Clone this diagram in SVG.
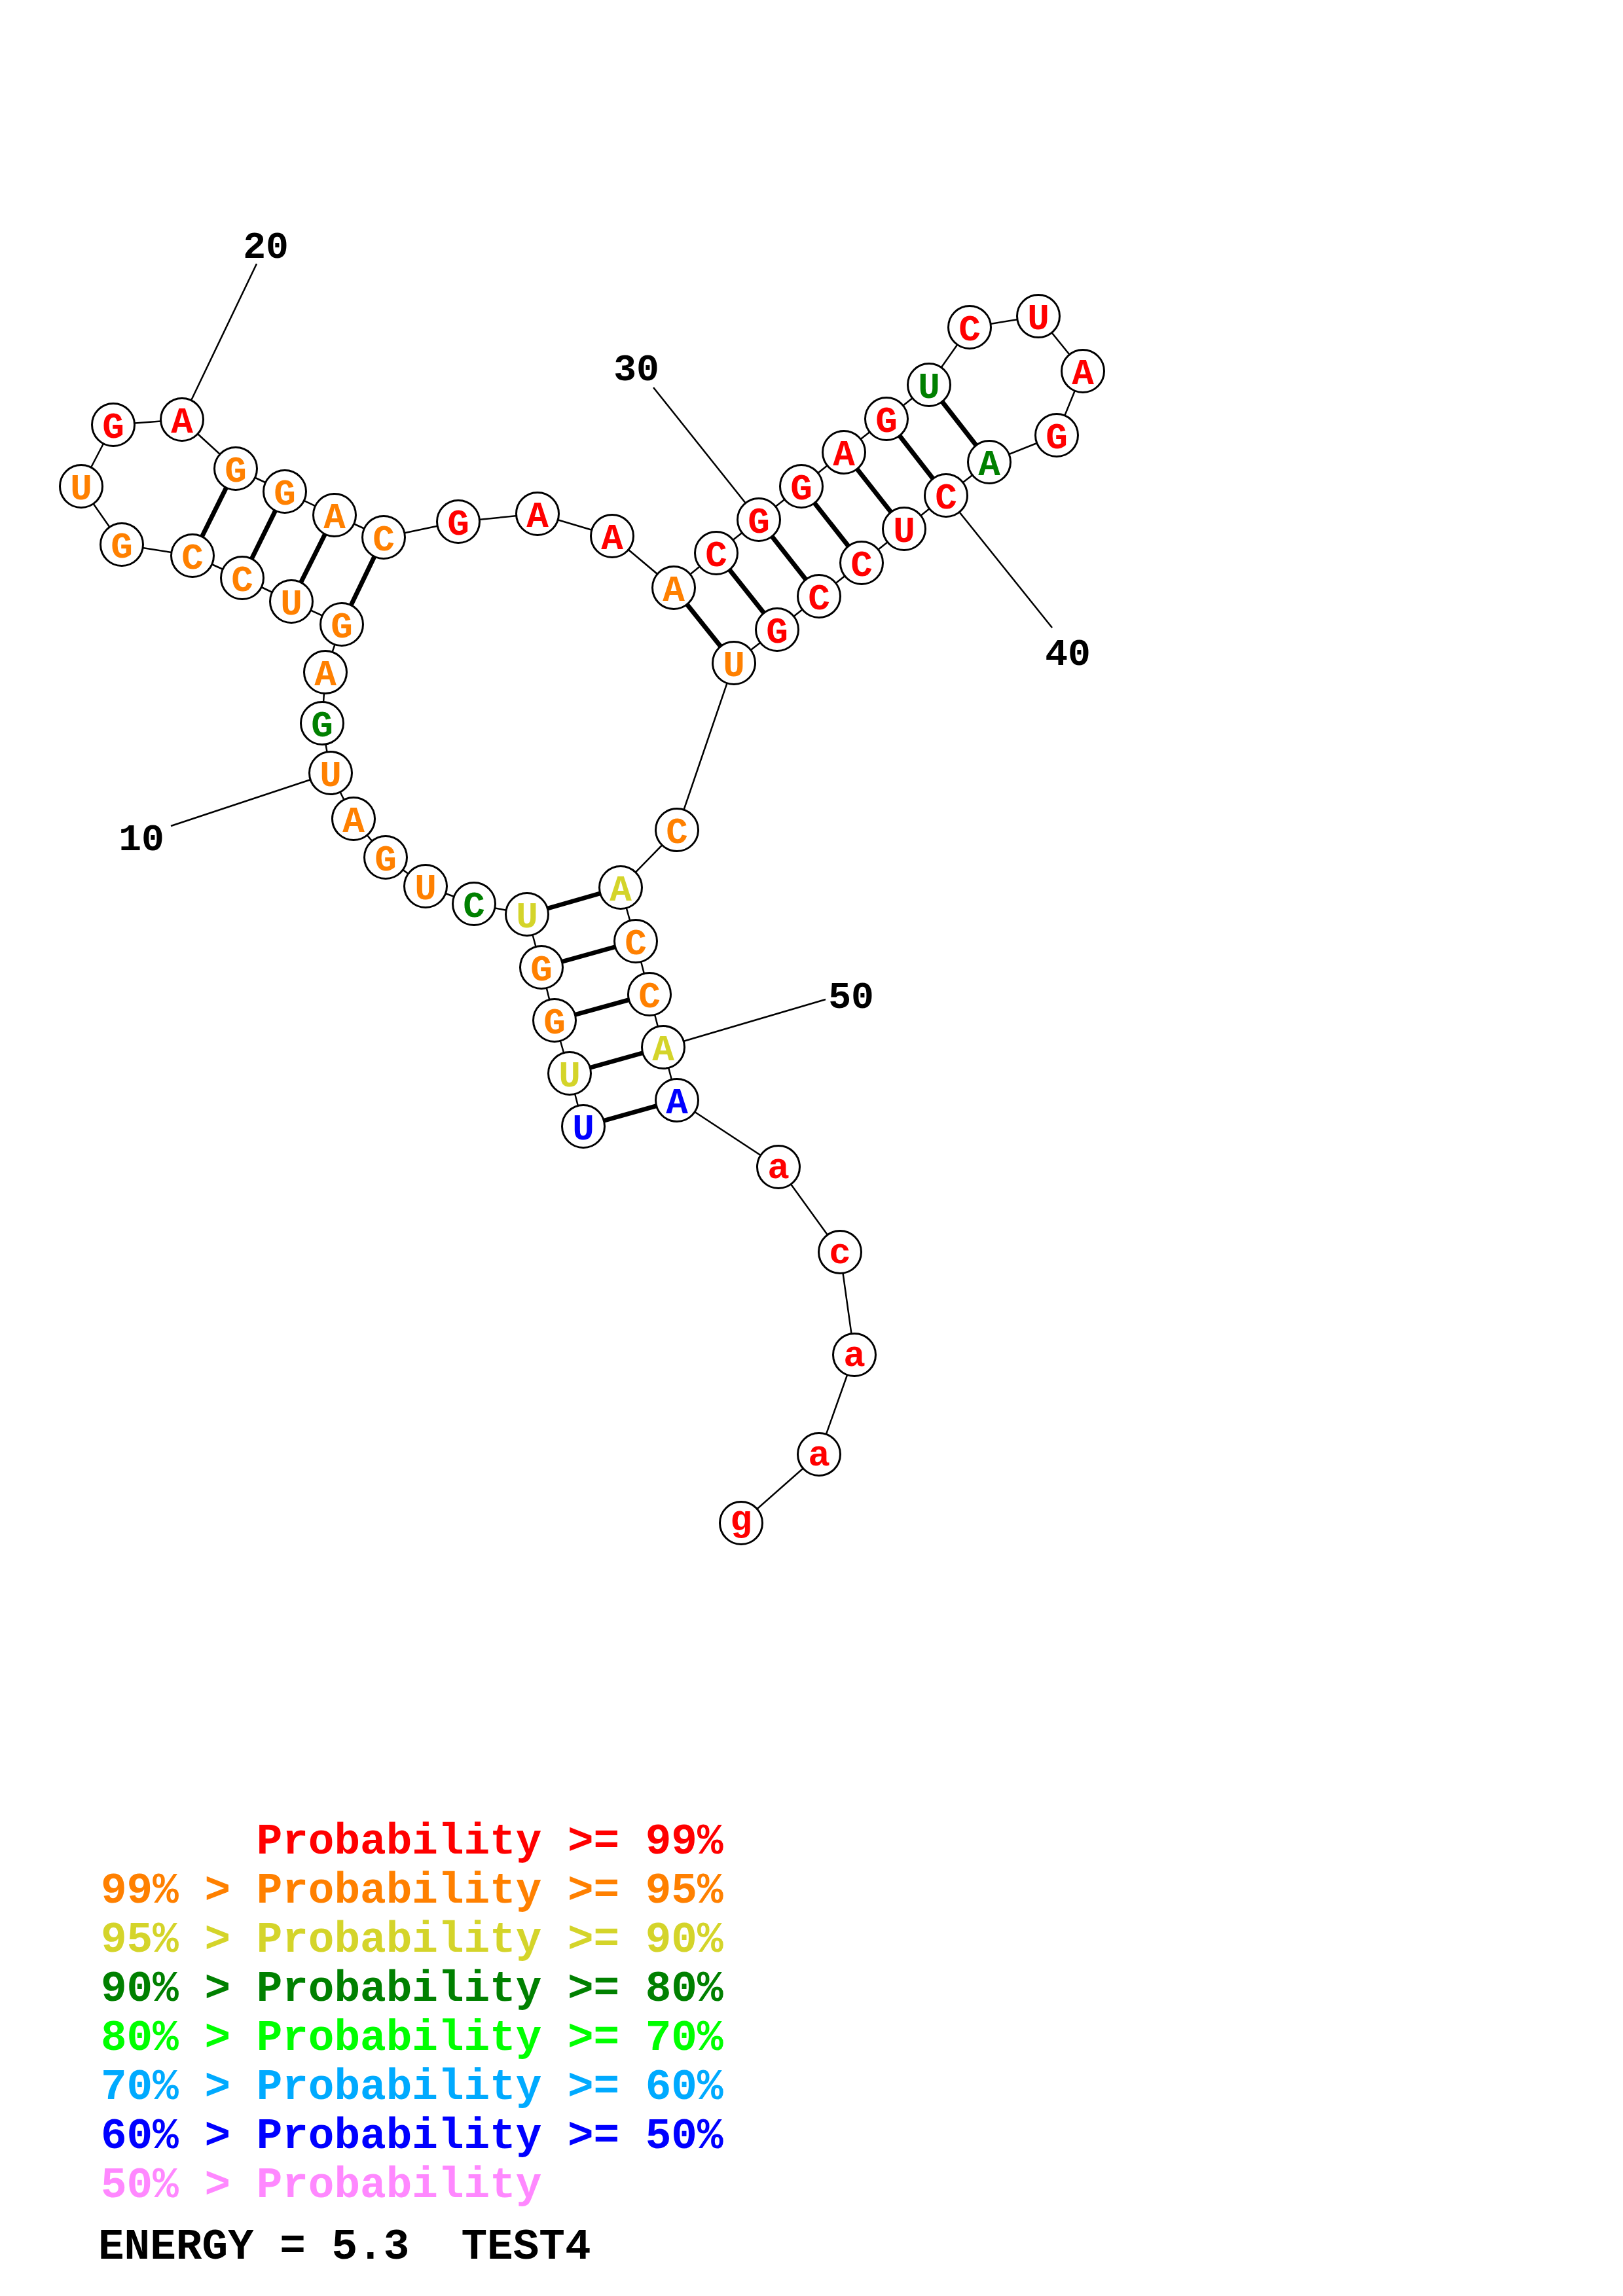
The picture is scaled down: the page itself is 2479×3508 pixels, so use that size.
<svg xmlns="http://www.w3.org/2000/svg" width="2479" height="3508" viewBox="0 0 2479 3508">
<style>
.bg{fill:#fff}
.bb{fill:none;stroke:#000;stroke-width:2.5;stroke-linejoin:round}
.bp{stroke:#000;stroke-width:7}
.nl{stroke:#000;stroke-width:2.5}
.n circle{fill:#fff;stroke:#000;stroke-width:3}
.n text{font-family:"Liberation Mono","DejaVu Sans Mono",monospace;font-weight:bold;font-size:56px;text-anchor:middle}
.num{font-family:"Liberation Mono","DejaVu Sans Mono",monospace;font-weight:bold;font-size:58px;text-anchor:middle;fill:#000}
.lg text{font-family:"Liberation Mono","DejaVu Sans Mono",monospace;font-weight:bold;font-size:66px;white-space:pre}
.r{fill:#FF0000}.o{fill:#FF8000}.y{fill:#D4D42A}.g{fill:#008000}.lgr{fill:#00FF00}.lb{fill:#00AAFF}.b{fill:#0000FF}.p{fill:#FF88FF}.k{fill:#000}
</style>
<rect class="bg" x="0" y="0" width="2479" height="3508"/>
<g id="connectors">
<polyline class="bb" points="891,1721 870,1640 847,1559 827,1478 805,1397 724,1381 650,1354 589,1310 540,1251 505,1181 492,1105 497,1027 522,954 445,919 370,883 294,849 186,832 124,743 173,649 278,641 360,716 435,751 511,787 586,821 700,797 821,785 935,819 1029,898 1094,845 1159,794 1224,743 1289,691 1354,640 1419,588 1481,500 1586,483 1654,567 1614,665 1511,706 1445,757 1381,808 1316,860 1251,911 1187,962 1121,1013 1034,1268 948,1356 971,1438 992,1519 1013,1600 1034,1681 1189,1783 1283,1913 1305,2070 1251,2222 1132,2327"/>
<g id="pairs">
<line class="bp" x1="891" y1="1721" x2="1034" y2="1681"/>
<line class="bp" x1="870" y1="1640" x2="1013" y2="1600"/>
<line class="bp" x1="847" y1="1559" x2="992" y2="1519"/>
<line class="bp" x1="827" y1="1478" x2="971" y2="1438"/>
<line class="bp" x1="805" y1="1397" x2="948" y2="1356"/>
<line class="bp" x1="522" y1="954" x2="586" y2="821"/>
<line class="bp" x1="445" y1="919" x2="511" y2="787"/>
<line class="bp" x1="370" y1="883" x2="435" y2="751"/>
<line class="bp" x1="294" y1="849" x2="360" y2="716"/>
<line class="bp" x1="1029" y1="898" x2="1121" y2="1013"/>
<line class="bp" x1="1094" y1="845" x2="1187" y2="962"/>
<line class="bp" x1="1159" y1="794" x2="1251" y2="911"/>
<line class="bp" x1="1224" y1="743" x2="1316" y2="860"/>
<line class="bp" x1="1289" y1="691" x2="1381" y2="808"/>
<line class="bp" x1="1354" y1="640" x2="1445" y2="757"/>
<line class="bp" x1="1419" y1="588" x2="1511" y2="706"/>
</g>
<g id="number-ticks">
<line class="nl" x1="505" y1="1181" x2="261" y2="1262"/>
<line class="nl" x1="278" y1="641" x2="392" y2="403"/>
<line class="nl" x1="1159" y1="794" x2="998" y2="592"/>
<line class="nl" x1="1445" y1="757" x2="1607" y2="959"/>
<line class="nl" x1="1013" y1="1600" x2="1261" y2="1527"/>
</g>
</g>
<g id="labels">
<text class="num" x="216" y="1299">10</text>
<text class="num" x="406" y="394">20</text>
<text class="num" x="972" y="581">30</text>
<text class="num" x="1631" y="1016">40</text>
<text class="num" x="1300" y="1540">50</text>
</g>
<g id="n1" class="n"><circle cx="891" cy="1721" r="32.5"/><text class="b" x="891" y="1741">U</text></g>
<g id="n2" class="n"><circle cx="870" cy="1640" r="32.5"/><text class="y" x="870" y="1660">U</text></g>
<g id="n3" class="n"><circle cx="847" cy="1559" r="32.5"/><text class="o" x="847" y="1579">G</text></g>
<g id="n4" class="n"><circle cx="827" cy="1478" r="32.5"/><text class="o" x="827" y="1498">G</text></g>
<g id="n5" class="n"><circle cx="805" cy="1397" r="32.5"/><text class="y" x="805" y="1417">U</text></g>
<g id="n6" class="n"><circle cx="724" cy="1381" r="32.5"/><text class="g" x="724" y="1401">C</text></g>
<g id="n7" class="n"><circle cx="650" cy="1354" r="32.5"/><text class="o" x="650" y="1374">U</text></g>
<g id="n8" class="n"><circle cx="589" cy="1310" r="32.5"/><text class="o" x="589" y="1330">G</text></g>
<g id="n9" class="n"><circle cx="540" cy="1251" r="32.5"/><text class="o" x="540" y="1271">A</text></g>
<g id="n10" class="n"><circle cx="505" cy="1181" r="32.5"/><text class="o" x="505" y="1201">U</text></g>
<g id="n11" class="n"><circle cx="492" cy="1105" r="32.5"/><text class="g" x="492" y="1125">G</text></g>
<g id="n12" class="n"><circle cx="497" cy="1027" r="32.5"/><text class="o" x="497" y="1047">A</text></g>
<g id="n13" class="n"><circle cx="522" cy="954" r="32.5"/><text class="o" x="522" y="974">G</text></g>
<g id="n14" class="n"><circle cx="445" cy="919" r="32.5"/><text class="o" x="445" y="939">U</text></g>
<g id="n15" class="n"><circle cx="370" cy="883" r="32.5"/><text class="o" x="370" y="903">C</text></g>
<g id="n16" class="n"><circle cx="294" cy="849" r="32.5"/><text class="o" x="294" y="869">C</text></g>
<g id="n17" class="n"><circle cx="186" cy="832" r="32.5"/><text class="o" x="186" y="852">G</text></g>
<g id="n18" class="n"><circle cx="124" cy="743" r="32.5"/><text class="o" x="124" y="763">U</text></g>
<g id="n19" class="n"><circle cx="173" cy="649" r="32.5"/><text class="r" x="173" y="669">G</text></g>
<g id="n20" class="n"><circle cx="278" cy="641" r="32.5"/><text class="r" x="278" y="661">A</text></g>
<g id="n21" class="n"><circle cx="360" cy="716" r="32.5"/><text class="o" x="360" y="736">G</text></g>
<g id="n22" class="n"><circle cx="435" cy="751" r="32.5"/><text class="o" x="435" y="771">G</text></g>
<g id="n23" class="n"><circle cx="511" cy="787" r="32.5"/><text class="o" x="511" y="807">A</text></g>
<g id="n24" class="n"><circle cx="586" cy="821" r="32.5"/><text class="o" x="586" y="841">C</text></g>
<g id="n25" class="n"><circle cx="700" cy="797" r="32.5"/><text class="r" x="700" y="817">G</text></g>
<g id="n26" class="n"><circle cx="821" cy="785" r="32.5"/><text class="r" x="821" y="805">A</text></g>
<g id="n27" class="n"><circle cx="935" cy="819" r="32.5"/><text class="r" x="935" y="839">A</text></g>
<g id="n28" class="n"><circle cx="1029" cy="898" r="32.5"/><text class="o" x="1029" y="918">A</text></g>
<g id="n29" class="n"><circle cx="1094" cy="845" r="32.5"/><text class="r" x="1094" y="865">C</text></g>
<g id="n30" class="n"><circle cx="1159" cy="794" r="32.5"/><text class="r" x="1159" y="814">G</text></g>
<g id="n31" class="n"><circle cx="1224" cy="743" r="32.5"/><text class="r" x="1224" y="763">G</text></g>
<g id="n32" class="n"><circle cx="1289" cy="691" r="32.5"/><text class="r" x="1289" y="711">A</text></g>
<g id="n33" class="n"><circle cx="1354" cy="640" r="32.5"/><text class="r" x="1354" y="660">G</text></g>
<g id="n34" class="n"><circle cx="1419" cy="588" r="32.5"/><text class="g" x="1419" y="608">U</text></g>
<g id="n35" class="n"><circle cx="1481" cy="500" r="32.5"/><text class="r" x="1481" y="520">C</text></g>
<g id="n36" class="n"><circle cx="1586" cy="483" r="32.5"/><text class="r" x="1586" y="503">U</text></g>
<g id="n37" class="n"><circle cx="1654" cy="567" r="32.5"/><text class="r" x="1654" y="587">A</text></g>
<g id="n38" class="n"><circle cx="1614" cy="665" r="32.5"/><text class="r" x="1614" y="685">G</text></g>
<g id="n39" class="n"><circle cx="1511" cy="706" r="32.5"/><text class="g" x="1511" y="726">A</text></g>
<g id="n40" class="n"><circle cx="1445" cy="757" r="32.5"/><text class="r" x="1445" y="777">C</text></g>
<g id="n41" class="n"><circle cx="1381" cy="808" r="32.5"/><text class="r" x="1381" y="828">U</text></g>
<g id="n42" class="n"><circle cx="1316" cy="860" r="32.5"/><text class="r" x="1316" y="880">C</text></g>
<g id="n43" class="n"><circle cx="1251" cy="911" r="32.5"/><text class="r" x="1251" y="931">C</text></g>
<g id="n44" class="n"><circle cx="1187" cy="962" r="32.5"/><text class="r" x="1187" y="982">G</text></g>
<g id="n45" class="n"><circle cx="1121" cy="1013" r="32.5"/><text class="o" x="1121" y="1033">U</text></g>
<g id="n46" class="n"><circle cx="1034" cy="1268" r="32.5"/><text class="o" x="1034" y="1288">C</text></g>
<g id="n47" class="n"><circle cx="948" cy="1356" r="32.5"/><text class="y" x="948" y="1376">A</text></g>
<g id="n48" class="n"><circle cx="971" cy="1438" r="32.5"/><text class="o" x="971" y="1458">C</text></g>
<g id="n49" class="n"><circle cx="992" cy="1519" r="32.5"/><text class="o" x="992" y="1539">C</text></g>
<g id="n50" class="n"><circle cx="1013" cy="1600" r="32.5"/><text class="y" x="1013" y="1620">A</text></g>
<g id="n51" class="n"><circle cx="1034" cy="1681" r="32.5"/><text class="b" x="1034" y="1701">A</text></g>
<g id="n52" class="n"><circle cx="1189" cy="1783" r="32.5"/><text class="r" x="1189" y="1800">a</text></g>
<g id="n53" class="n"><circle cx="1283" cy="1913" r="32.5"/><text class="r" x="1283" y="1930">c</text></g>
<g id="n54" class="n"><circle cx="1305" cy="2070" r="32.5"/><text class="r" x="1305" y="2087">a</text></g>
<g id="n55" class="n"><circle cx="1251" cy="2222" r="32.5"/><text class="r" x="1251" y="2239">a</text></g>
<g id="n56" class="n"><circle cx="1132" cy="2327" r="32.5"/><text class="r" x="1132" y="2338">g</text></g>
<g id="legend" class="lg">
<text class="r" x="154" y="2832" xml:space="preserve">      Probability &gt;= 99%</text>
<text class="o" x="154" y="2907" xml:space="preserve">99% &gt; Probability &gt;= 95%</text>
<text class="y" x="154" y="2982" xml:space="preserve">95% &gt; Probability &gt;= 90%</text>
<text class="g" x="154" y="3057" xml:space="preserve">90% &gt; Probability &gt;= 80%</text>
<text class="lgr" x="154" y="3132" xml:space="preserve">80% &gt; Probability &gt;= 70%</text>
<text class="lb" x="154" y="3207" xml:space="preserve">70% &gt; Probability &gt;= 60%</text>
<text class="b" x="154" y="3282" xml:space="preserve">60% &gt; Probability &gt;= 50%</text>
<text class="p" x="154" y="3357" xml:space="preserve">50% &gt; Probability</text>
<text class="k" x="150" y="3451" xml:space="preserve">ENERGY = 5.3  TEST4</text>
</g>
</svg>
